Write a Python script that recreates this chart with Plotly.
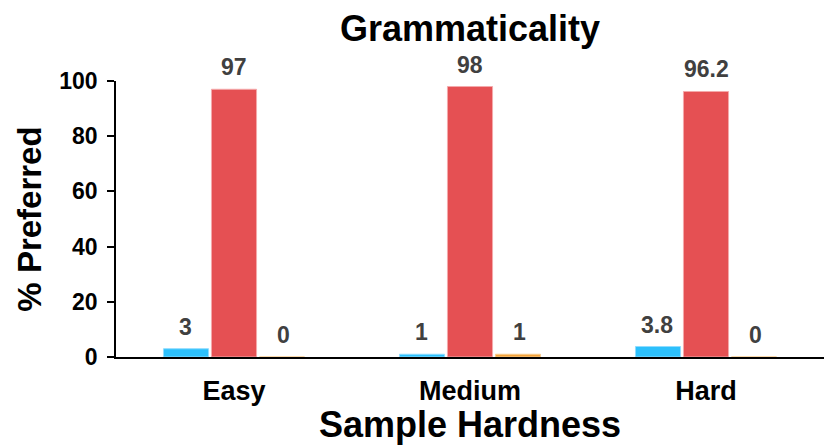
import plotly.graph_objects as go

categories = ["Easy", "Medium", "Hard"]
series_names = ["Blue", "Red", "Orange"]
blue_vals = [3, 1, 3.8]
red_vals = [97, 98, 96.2]
orange_vals = [0, 1, 0]
y_ticks = [0, 20, 40, 60, 80, 100]

fills = ["#2CC0FC", "#E55053", "#F2A23A"]
edges = ["#8FDCFF", "#F4A9AB", "#F8CC8F"]
all_vals = [blue_vals, red_vals, orange_vals]

FONT = "Liberation Sans, Arial, sans-serif"

fig = go.Figure()
for name, vals, fc, ec in zip(series_names, all_vals, fills, edges):
    fig.add_trace(go.Bar(
        name=name, x=categories, y=vals,
        marker=dict(color=fc, line=dict(color=ec, width=1)),
        showlegend=False, hoverinfo="skip",
    ))

# value labels above bars
bar_px = 46
gap_px = 3
for i, vals in enumerate(all_vals):
    shift = (i - 1) * (bar_px + gap_px)
    for c, v in zip(categories, vals):
        fig.add_annotation(
            x=c, y=v, xref="x", yref="y",
            text=f"<b>{v:g}</b>", showarrow=False,
            xshift=shift, yshift=7, yanchor="bottom",
            font=dict(family=FONT, size=23, color="#404040"),
        )

fig.update_layout(
    width=831, height=445,
    margin=dict(l=116, r=7, t=81, b=88),
    paper_bgcolor="white", plot_bgcolor="white",
    barmode="group", bargap=0.39, bargroupgap=0.06,
    font=dict(family=FONT, color="black"),
    title=dict(
        text="<b>Grammaticality</b>", x=0.5, xref="paper",
        y=1 - 28 / 445, yref="container", yanchor="middle",
        font=dict(family=FONT, size=36, color="black"),
    ),
)

fig.update_xaxes(
    automargin=False,
    showline=True, linecolor="black", linewidth=1.5,
    ticks="", showgrid=False, zeroline=False,
    tickfont=dict(family=FONT, size=27, color="black"),
    tickvals=categories, ticktext=[f"<b>{c}</b>" for c in categories],
    ticklabelstandoff=9,
    title=dict(text="<b>Sample Hardness</b>", standoff=4,
               font=dict(family=FONT, size=36, color="black")),
)
fig.update_yaxes(
    automargin=False,
    range=[0, 100], showline=True, linecolor="black", linewidth=1.5,
    ticks="outside", ticklen=7, tickcolor="black", tickwidth=1.5,
    showgrid=False, zeroline=False,
    tickvals=y_ticks, ticktext=[f"<b>{t}</b>" for t in y_ticks],
    tickfont=dict(family=FONT, size=23, color="black"),
    ticklabelstandoff=5,
    title=dict(text="<b>% Preferred</b>", standoff=8,
               font=dict(family=FONT, size=33, color="black")),
)

fig.write_html("out.html", config={"displayModeBar": False},
               post_script="document.body.style.margin='0';")
